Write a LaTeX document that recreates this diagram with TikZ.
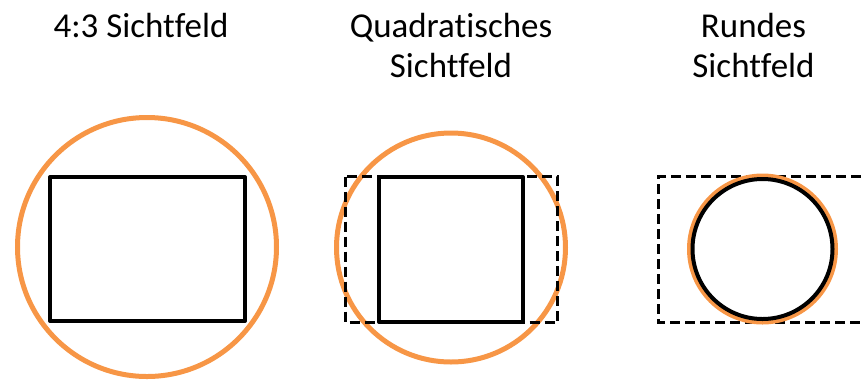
\documentclass[tikz,border=0pt]{standalone}
\usepackage{fontspec}
\setmainfont{Carlito}[Ligatures=NoCommon]
\definecolor{fieldorange}{HTML}{F79646}
\begin{document}
\begin{tikzpicture}[
        x=0.75pt, y=-0.75pt,
        label/.style={
            align=center,
            font=\fontsize{26.2}{30}\selectfont,
            inner sep=0pt,
            anchor=base
        },
        fieldcircle/.style={draw=fieldorange, line width=3.75pt},
        sensorbox/.style={draw=black, line width=3pt, line join=round},
        framebox/.style={draw=black, line width=2.25pt, dash pattern=on 7.5pt off 3.75pt}
    ]

    \useasboundingbox (0,0) rectangle (861,380);

    % Beschriftungen (base = letzte Zeile)
    \node[label] (l1) at (141, 37)   {4:3 Sichtfeld};
    \node[label] (l2) at (451, 77)   {Quadratisches\\Sichtfeld};
    \node[label] (l3) at (753.5, 77) {Rundes\\Sichtfeld};

    % 4:3
    \draw[fieldcircle] (147, 247) circle[radius=129.5];
    \draw[sensorbox] (50, 177) rectangle (245, 321);

    % quadratisch
    \draw[fieldcircle] (451, 247.5) circle[radius=114.5];
    \draw[framebox] (345.5, 176.5) rectangle (557.5, 322.5);
    \draw[sensorbox] (379, 177) rectangle (523, 322);

    % rund
    \draw[framebox] (861, 176.5) -- (658.5, 176.5) -- (658.5, 322.5) -- (861, 322.5);
    \draw[fieldcircle, line width=4.5pt] (762.5, 249) circle[radius=72.5];
    \draw[draw=black, line width=3pt] (762.5, 249) circle[radius=70];

\end{tikzpicture}
\end{document}
